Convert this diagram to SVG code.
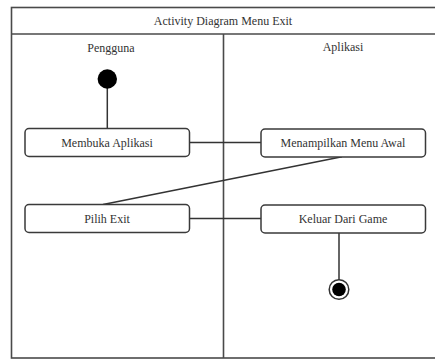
<svg xmlns="http://www.w3.org/2000/svg" width="435" height="359" viewBox="0 0 435 359">
<defs>
<style>
.frame{fill:none;stroke:#4a4a4a;stroke-width:1.6}
.box{fill:#fff;stroke:#3a3a3a;stroke-width:1.5}
.conn{fill:none;stroke:#333;stroke-width:1.5}
.lbl{font-family:"Liberation Serif","Times New Roman",serif;font-size:12px;fill:#333;text-anchor:middle}
</style>
</defs>
<rect width="435" height="359" fill="#fff"/>
<g id="frame">
<rect class="frame" x="11.5" y="7.5" width="430" height="350.5"/>
<line class="frame" x1="11.5" y1="34" x2="441" y2="34"/>
<line class="frame" x1="223.5" y1="34" x2="223.5" y2="358"/>
<text class="lbl" x="223" y="25">Activity Diagram Menu Exit</text>
<text class="lbl" x="111" y="52">Pengguna</text>
<text class="lbl" x="343" y="51">Aplikasi</text>
</g>
<g id="connectors">
<line class="conn" x1="107.3" y1="85" x2="107.3" y2="128.5"/>
<line class="conn" x1="189.5" y1="142.5" x2="261" y2="142.5"/>
<line class="conn" x1="342" y1="156.8" x2="103" y2="204.5"/>
<line class="conn" x1="189.5" y1="218.5" x2="261" y2="218.5"/>
<line class="conn" x1="339" y1="233" x2="339" y2="280"/>
</g>
<g id="start">
<circle cx="107.3" cy="79" r="9.7" fill="#000"/>
</g>
<g id="membuka">
<rect class="box" x="25" y="128.5" width="164.5" height="28" rx="4"/>
<text class="lbl" x="107" y="146.5">Membuka Aplikasi</text>
</g>
<g id="menampilkan">
<rect class="box" x="261" y="129" width="164.5" height="28" rx="4"/>
<text class="lbl" x="343" y="147">Menampilkan Menu Awal</text>
</g>
<g id="pilih">
<rect class="box" x="25" y="204.5" width="164.5" height="28" rx="4"/>
<text class="lbl" x="107" y="222.5">Pilih Exit</text>
</g>
<g id="keluar">
<rect class="box" x="261" y="205" width="164.5" height="28" rx="4"/>
<text class="lbl" x="343" y="223">Keluar Dari Game</text>
</g>
<g id="end">
<circle cx="339" cy="289.5" r="9.8" fill="#fff" stroke="#333" stroke-width="1.5"/>
<circle cx="339" cy="289.5" r="6.8" fill="#000"/>
</g>
</svg>
